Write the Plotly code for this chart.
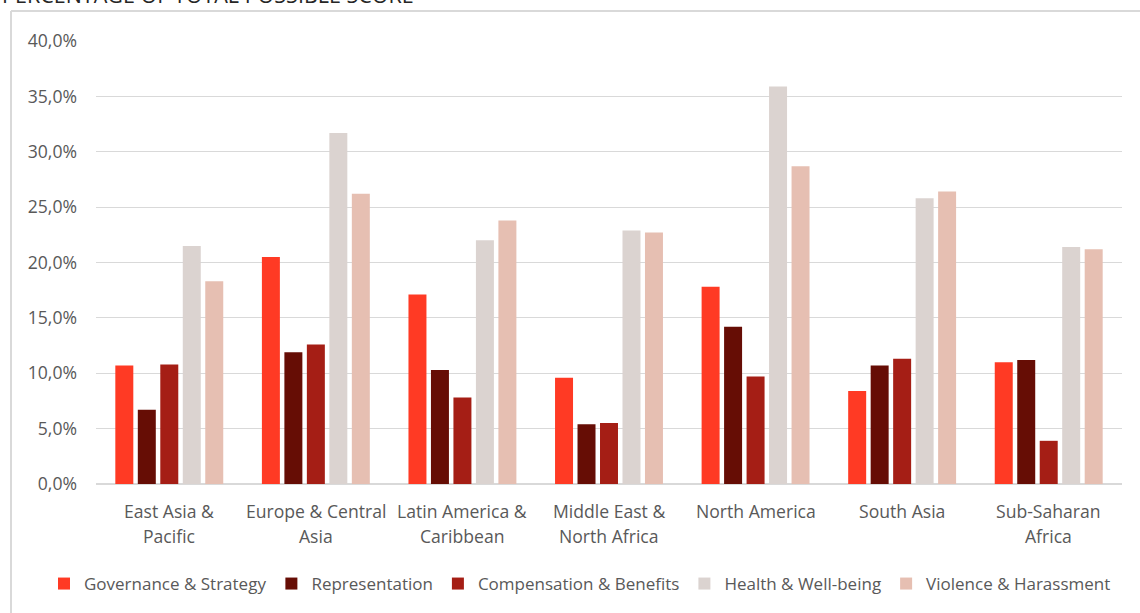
import plotly.graph_objects as go

# Regions (line breaks mark where the axis label wraps)
regions = [
    "East Asia &|Pacific",
    "Europe & Central|Asia",
    "Latin America &|Caribbean",
    "Middle East &|North Africa",
    "North America",
    "South Asia",
    "Sub-Saharan|Africa",
]

# Score as percentage of total possible score
governance = [10.7, 20.5, 17.1, 9.6, 17.8, 8.4, 11.0]
representation = [6.7, 11.9, 10.3, 5.4, 14.2, 10.7, 11.2]
compensation = [10.8, 12.6, 7.8, 5.5, 9.7, 11.3, 3.9]
health = [21.5, 31.7, 22.0, 22.9, 35.9, 25.8, 21.4]
violence = [18.3, 26.2, 23.8, 22.7, 28.7, 26.4, 21.2]

series_names = [
    "Governance & Strategy",
    "Representation",
    "Compensation & Benefits",
    "Health & Well-being",
    "Violence & Harassment",
]
series_values = [governance, representation, compensation, health, violence]
series_colors = ["#FF3A24", "#660D05", "#A51E15", "#DBD3D0", "#E6BFB2"]

tick_values = [0, 5, 10, 15, 20, 25, 30, 35, 40]
tick_labels = ["0,0%", "5,0%", "10,0%", "15,0%", "20,0%", "25,0%", "30,0%", "35,0%", "40,0%"]

W, H = 1140, 613
ML, MR, MT, MB = 96, 18, 41, 129
PW, PH = W - ML - MR, H - MT - MB


def px_x(p):
    return (p - ML) / PW


def px_y(p):
    return (H - MB - p) / PH


FONT = "Open Sans"
FS = 17.6
TEXT = "#595959"
GRID = "#D9D9D9"

fig = go.Figure()
for name, vals, col in zip(series_names, series_values, series_colors):
    fig.add_trace(go.Bar(
        name=name,
        x=regions,
        y=vals,
        marker=dict(color=col, line=dict(width=0)),
    ))

annotations = []
for r in regions:
    lines = r.split("|")
    for i, line in enumerate(lines):
        annotations.append(dict(
            x=r, xref="x", y=px_y(511 + 24.5 * i), yref="paper",
            text=line, showarrow=False, xanchor="center", yanchor="middle",
            font=dict(family=FONT, size=FS, color=TEXT),
        ))

annotations.append(dict(
    x=px_x(0), xref="paper", y=px_y(-6), yref="paper",
    text="PERCENTAGE OF TOTAL POSSIBLE SCORE", showarrow=False,
    xanchor="left", yanchor="middle",
    font=dict(family=FONT, size=21.5, color="#262626"),
))

shapes = [
    dict(type="line", xref="paper", yref="paper",
         x0=px_x(11), x1=px_x(1140), y0=px_y(11), y1=px_y(11),
         line=dict(color=GRID, width=2)),
    dict(type="line", xref="paper", yref="paper",
         x0=px_x(11), x1=px_x(11), y0=px_y(11), y1=px_y(613),
         line=dict(color=GRID, width=2)),
]

fig.update_layout(
    width=W, height=H,
    margin=dict(l=ML, r=MR, t=MT, b=MB, pad=0, autoexpand=False),
    paper_bgcolor="white", plot_bgcolor="white",
    barmode="group", bargap=0.233, bargroupgap=0.2,
    font=dict(family=FONT, size=FS, color=TEXT),
    showlegend=True,
    legend=dict(
        orientation="h", x=px_x(44), xanchor="left",
        y=px_y(584), yanchor="middle",
        font=dict(family=FONT, size=17, color=TEXT),
        itemwidth=30, tracegroupgap=0,
        bgcolor="rgba(0,0,0,0)",
    ),
    annotations=annotations,
    shapes=shapes,
    xaxis=dict(
        showticklabels=False, showgrid=False, ticks="",
        showline=False, zeroline=False,
    ),
    yaxis=dict(
        range=[0, 40], tickvals=tick_values, ticktext=tick_labels,
        showgrid=True, gridcolor=GRID, gridwidth=1,
        zeroline=True, zerolinecolor=GRID, zerolinewidth=2,
        showline=False, ticks="", ticklabelstandoff=18,
        tickfont=dict(family=FONT, size=FS, color=TEXT),
    ),
)

fig.write_html("out.html")
